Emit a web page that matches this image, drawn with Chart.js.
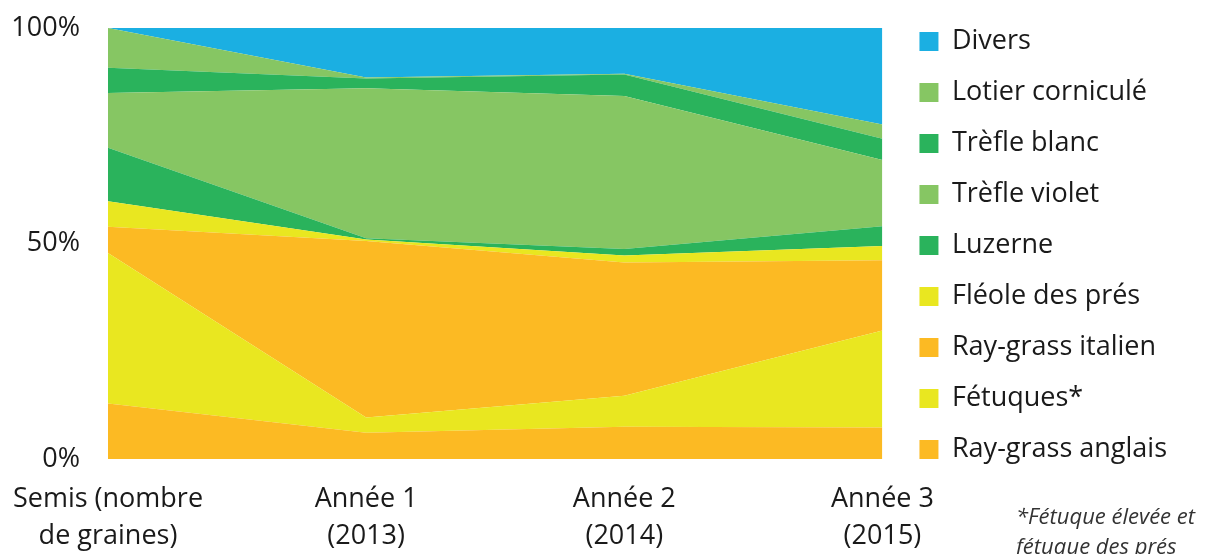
<!DOCTYPE html>
<html>
<head>
<meta charset="utf-8">
<script src="https://cdn.jsdelivr.net/npm/chart.js@4.4.0/dist/chart.umd.min.js"></script>
<style>
  html, body { margin: 0; padding: 0; background: #fff; }
  #wrap { position: relative; width: 1212px; height: 554px; }
  #note {
    position: absolute; left: 1016px; top: 500px;
    font-family: "Open Sans", Lato, sans-serif; font-style: italic;
    font-size: 22px; line-height: 30px; color: #333;
  }
</style>
</head>
<body>
<div id="wrap">
  <canvas id="chart" width="1212" height="554"></canvas>
  <div id="note">*Fétuque élevée et<br>fétuque des prés</div>
</div>
<script>
// categories
const periods = [['Semis (nombre', 'de graines)'], ['Année 1', '(2013)'], ['Année 2', '(2014)'], ['Année 3', '(2015)']];
const yTicks = [0, 50, 100];

// shares in %, bottom layer first
const rayGrassAnglais = [12.9, 6.1, 7.5, 7.3];
const fetuques        = [34.9, 3.5, 7.2, 22.5];
const rayGrassItalien = [6.1, 41.0, 30.9, 16.3];
const fleole          = [5.9, 0.3, 1.6, 3.3];
const luzerne         = [12.4, 0.3, 1.5, 4.6];
const trefleViolet    = [12.7, 34.8, 35.5, 15.4];
const trefleBlanc     = [5.9, 2.3, 5.0, 4.9];
const lotier          = [9.2, 0.2, 0.2, 3.3];
const divers          = [0, 11.5, 10.6, 22.4];

const ORANGE = '#FCBA23', YELLOW = '#E9E720', LIGHTGREEN = '#86C663', GREEN = '#2AB35C', BLUE = '#1BAFE2';

const layers = [
    { label: 'Ray-grass anglais', data: rayGrassAnglais, color: ORANGE },
    { label: 'Fétuques*', data: fetuques, color: YELLOW },
    { label: 'Ray-grass italien', data: rayGrassItalien, color: ORANGE },
    { label: 'Fléole des prés', data: fleole, color: YELLOW },
    { label: 'Luzerne', data: luzerne, color: GREEN },
    { label: 'Trèfle violet', data: trefleViolet, color: LIGHTGREEN },
    { label: 'Trèfle blanc', data: trefleBlanc, color: GREEN },
    { label: 'Lotier corniculé', data: lotier, color: LIGHTGREEN },
    { label: 'Divers', data: divers, color: BLUE }
];

const FONT = '"Open Sans", Lato, sans-serif';

// shift the legend block a bit to the right, away from the plot
const nudgeLegend = {
    id: 'nudgeLegend',
    afterLayout(chart) {
        const lg = chart.legend;
        lg.left += 13; lg.right += 13;
    }
};

new Chart(document.getElementById('chart'), {
    type: 'line',
    data: {
        labels: periods,
        datasets: layers.map((l, i) => ({
            label: l.label,
            data: l.data,
            backgroundColor: l.color,
            borderColor: l.color,
            borderWidth: 0,
            pointRadius: 0,
            tension: 0,
            fill: i === 0 ? 'origin' : '-1'
        }))
    },
    plugins: [nudgeLegend],
    options: {
        responsive: false,
        animation: false,
        layout: { padding: { top: 4, right: 48, bottom: 0, left: 0 } },
        plugins: {
            tooltip: { enabled: false },
            legend: {
                position: 'right',
                align: 'start',
                reverse: true,
                labels: {
                    color: '#1a1a1a',
                    font: { family: FONT, size: 27 },
                    boxWidth: 19,
                    boxHeight: 19,
                    padding: 24
                }
            }
        },
        scales: {
            x: {
                grid: { display: false, drawTicks: false },
                border: { display: false },
                ticks: {
                    color: '#1a1a1a', padding: 22, maxRotation: 0, autoSkip: false,
                    font: { family: FONT, size: 27, lineHeight: 1.37 }
                },
                afterFit: s => { s.height = 95; s.paddingLeft = 0; s.paddingRight = 0; }
            },
            y: {
                stacked: true,
                min: 0, max: 100,
                afterBuildTicks: s => { s.ticks = yTicks.map(v => ({ value: v })); },
                grid: { display: false, drawTicks: false },
                border: { display: false },
                ticks: {
                    color: '#1a1a1a', padding: 28,
                    font: { family: FONT, size: 27 },
                    callback: v => v + '%'
                },
                afterFit: s => { s.width = 108; s.paddingTop = 28; s.paddingBottom = 0; }
            }
        }
    }
});
</script>
</body>
</html>
